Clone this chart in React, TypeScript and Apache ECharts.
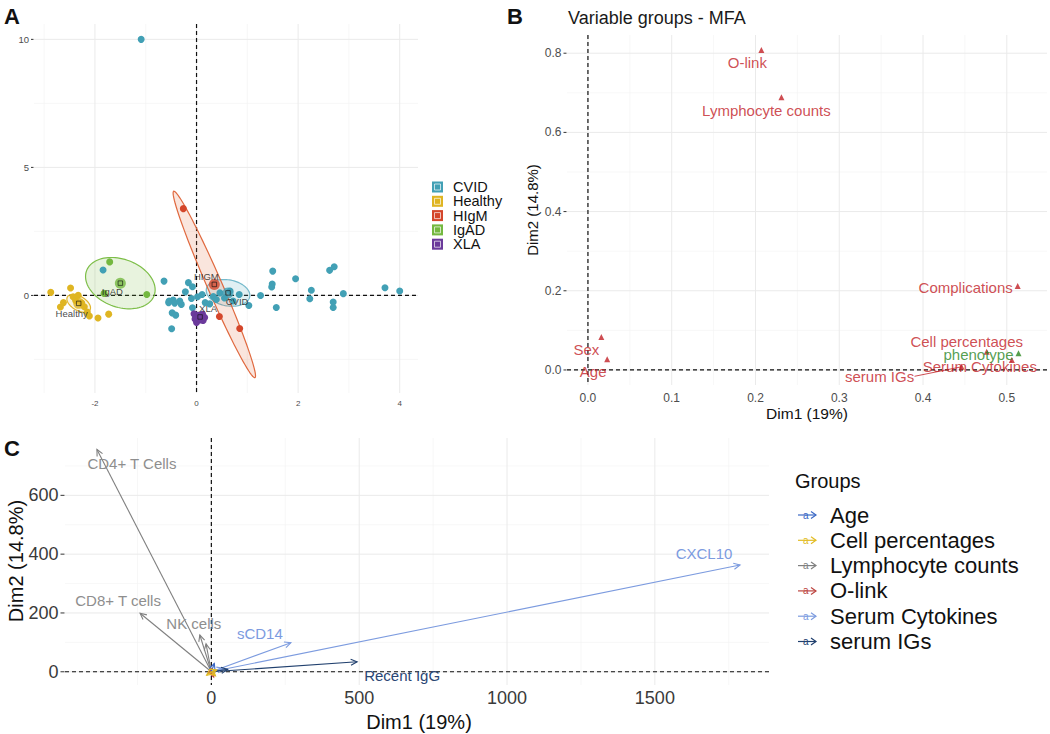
import React, { useEffect, useRef } from "react";
import * as echarts from "echarts";

const FONT = "'Liberation Sans', Arial, Helvetica, sans-serif";

// ---------------- Panel A : individuals ----------------
const groupsA = ["CVID", "Healthy", "HIgM", "IgAD", "XLA"];
const ptsCVID = [
  [-1.09, 10.0], [-1.84, 0.99], [-0.64, 0.56], [-0.16, 0.5], [-0.08, 0.34], [-0.22, 0.14],
  [-0.54, -0.22], [-0.46, -0.18], [-0.43, -0.3], [-0.3, -0.35], [-0.48, -0.68], [-0.41, -0.77],
  [-0.49, -1.3], [-0.1, -0.12], [-0.08, -0.48], [0.11, 0.04], [0.17, -0.28], [0.33, -0.04],
  [0.46, 0.1], [0.66, 0.17], [0.72, -0.22], [0.84, 0.04], [1.03, -0.39], [1.26, 0.0],
  [1.5, 0.95], [1.49, 0.45], [1.48, 0.33], [1.57, -0.47], [1.95, 0.65], [2.26, 0.2],
  [2.23, -0.13], [2.62, 0.98], [2.71, 1.12], [2.69, -0.26], [2.69, -0.47], [2.89, 0.07],
  [3.71, 0.3], [4.0, 0.17], [-0.55, -0.28], [0.26, -0.33], [0.39, -0.16], [-0.33, -0.22],
  [0.02, -0.05], [0.55, -0.1],
];
const ptsHealthy = [
  [-2.87, 0.12], [-2.48, 0.29], [-2.33, 0.01], [-2.43, -0.05], [-2.62, -0.28], [-2.26, -0.3],
  [-2.21, -0.44], [-2.15, -0.65], [-2.11, -0.8], [-1.94, -0.88], [-1.73, -0.73], [-2.68, -0.45],
  [-2.38, -0.2],
];
const ptsHIgM = [[-0.26, 3.39], [0.45, -0.82], [0.85, -1.29]];
const ptsIgAD = [[-1.71, 1.31], [-0.98, 0.04], [-1.82, 0.08]];
const ptsXLA = [
  [-0.05, -0.72], [0.03, -0.78], [0.12, -0.74], [0.16, -0.86], [0.08, -0.96], [-0.03, -0.92],
  [0.13, -0.98], [0.0, -1.06], [0.06, -0.85],
];
const pointsA = [ptsCVID, ptsHealthy, ptsHIgM, ptsIgAD, ptsXLA];
const centroidsA = [[0.62, 0.1], [-2.32, -0.31], [0.35, 0.43], [-1.5, 0.48], [0.07, -0.84]];
// confidence ellipses: semi-axis vectors (data units)
const ellipseMajorA = [[0.427, -0.148], [0.222, -0.254], [-0.8, 3.64], [0.666, -0.48], [0.12, -0.02]];
const ellipseMinorA = [[0.044, 0.5], [0.069, 0.237], [0.135, 0.117], [0.161, 0.88], [0.02, 0.16]];
const xTicksA = [-2, 0, 2, 4];
const xMinorA = [-3, -1, 1, 3];
const yTicksA = [0, 5, 10];
const yMinorA = [-2.5, 2.5, 7.5];

// ---------------- Panel B : variable groups ----------------
const varGroupsB = ["O-link", "Lymphocyte counts", "Complications", "Sex", "Age", "phenotype",
  "Cell percentages", "Serum Cytokines", "serum IGs"];
const dim1B = [0.207, 0.231, 0.513, 0.016, 0.023, 0.514, 0.476, 0.506, 0.446];
const dim2B = [0.808, 0.689, 0.212, 0.083, 0.027, 0.042, 0.046, 0.025, 0.008];
const typeB = [0, 0, 0, 0, 0, 1, 0, 0, 0]; // 0 = active, 1 = supplementary
const xTicksB = [0, 0.1, 0.2, 0.3, 0.4, 0.5];
const xMinorB = [0.05, 0.15, 0.25, 0.35, 0.45];
const yTicksB = [0, 0.2, 0.4, 0.6, 0.8];
const yMinorB = [0.1, 0.3, 0.5, 0.7];

// ---------------- Panel C : quantitative variables ----------------
const groupsC = ["Age", "Cell percentages", "Lymphocyte counts", "O-link", "Serum Cytokines", "serum IGs"];
const varNamesC = ["CXCL10", "CD4+ T Cells", "CD8+ T cells", "NK cells", "", "sCD14", "Recent IgG",
  "", "", "", "", "", "", "", ""];
const varGroupC = [4, 2, 2, 2, 2, 4, 5, 4, 5, 0, 3, 3, 1, 1, 1];
const dim1C = [1788, -387, -241, -39, -18, 269, 493, 40, 55, 10, 8, -12, -16, 14, 18];
const dim2C = [363, 756, 199, 125, 95, 99, 34, 12, 8, 28, -18, -6, -12, -14, 6];
const xTicksC = [0, 500, 1000, 1500];
const xMinorC = [-250, 250, 750, 1250, 1750];
const yTicksC = [0, 200, 400, 600];
const yMinorC = [100, 300, 500, 700];

// ---------------- styles ----------------
const colorsA = ["#42A0B5", "#DFB522", "#D4462B", "#74B840", "#6B3A9B"];
const ellipseStroke = ["#74B9CB", "#E2B62E", "#E0693F", "#7DBE48", "#6B3A9B"];
const ellipseFill = ["rgba(66,160,181,0.16)", "rgba(223,181,34,0.14)", "rgba(230,110,66,0.18)",
  "rgba(125,190,72,0.18)", "rgba(107,58,155,0.6)"];
const labelOffsetA = [[9, 9], [-7, 10], [-8, -8], [-8, 8], [8, -8]];
const colorsB = ["#C22127", "#2A861F"];
const labelOffsetB = [[-14, 12], [-15, 13], [-52, 1], [-15, 12], [-14, 12], [-40, 1], [-20, -10], [-32, 6], [-82, 10]];
const colorsC = ["#3B68C5", "#E2BC24", "#808080", "#BC4540", "#7C9BDF", "#21406E"];
const labelColorsC = ["#3B68C5", "#E2BC24", "#8E8E8E", "#BC4540", "#7C9BDF", "#2A4674"];
const labelOffsetC: Record<string, number[]> = {
  "CD4+ T Cells": [35, 14], "CD8+ T cells": [-22, -13], "NK cells": [-6, -12],
  "sCD14": [-31, -9], "CXCL10": [-36, -12], "Recent IgG": [45, 14],
};

type GStyle = { xFont: number; yFont: number; color: string; xGap: number; yGap: number; tick: number };

function gridSeries(gi: number, xMaj: number[], xMin: number[], yMaj: number[], yMin: number[],
  fmt: (v: number) => string, st: GStyle) {
  const data: number[][] = [];
  xMin.forEach((v) => data.push([v, 0, 0]));
  yMin.forEach((v) => data.push([0, v, 1]));
  xMaj.forEach((v) => data.push([v, 0, 2]));
  yMaj.forEach((v) => data.push([0, v, 3]));
  data.push([0, 0, 4]);
  data.push([0, 0, 5]);
  return {
    type: "custom", xAxisIndex: gi, yAxisIndex: gi, silent: true, z: 0, clip: false,
    data,
    renderItem: (params: any, api: any) => {
      const cs = params.coordSys;
      const kind = api.value(2);
      const v0 = api.value(0), v1 = api.value(1);
      const p = api.coord([v0, v1]);
      const x0 = cs.x, x1 = cs.x + cs.width, y0 = cs.y, y1 = cs.y + cs.height;
      if (kind === 0) return { type: "line", shape: { x1: p[0], y1: y0, x2: p[0], y2: y1 }, style: { stroke: "#F2F2F2", lineWidth: 0.6 } };
      if (kind === 1) return { type: "line", shape: { x1: x0, y1: p[1], x2: x1, y2: p[1] }, style: { stroke: "#F2F2F2", lineWidth: 0.6 } };
      if (kind === 2) return {
        type: "group", children: [
          { type: "line", shape: { x1: p[0], y1: y0, x2: p[0], y2: y1 }, style: { stroke: "#EAEAEA", lineWidth: 1 } },
          { type: "text", style: { text: fmt(v0), x: p[0], y: y1 + st.xGap, fill: st.color, fontSize: st.xFont, fontFamily: FONT, align: "center", verticalAlign: "middle" } },
        ],
      };
      if (kind === 3) return {
        type: "group", children: [
          { type: "line", shape: { x1: x0, y1: p[1], x2: x1, y2: p[1] }, style: { stroke: "#EAEAEA", lineWidth: 1 } },
          { type: "line", shape: { x1: x0 - st.tick - 0.5, y1: p[1], x2: x0 - 0.5, y2: p[1] }, style: { stroke: "#333", lineWidth: 1 } },
          { type: "text", style: { text: fmt(v1), x: x0 - st.yGap, y: p[1], fill: st.color, fontSize: st.yFont, fontFamily: FONT, align: "right", verticalAlign: "middle" } },
        ],
      };
      if (kind === 4) return { type: "line", shape: { x1: p[0], y1: y0, x2: p[0], y2: y1 }, style: { stroke: "#111", lineWidth: 1.2, lineDash: [4, 3] } };
      return { type: "line", shape: { x1: x0, y1: p[1], x2: x1, y2: p[1] }, style: { stroke: "#111", lineWidth: 1.2, lineDash: [4, 3] } };
    },
  };
}

function buildOption() {
  const series: any[] = [];
  // grids / axes labels
  series.push(gridSeries(0, xTicksA, xMinorA, yTicksA, yMinorA, (v) => String(v),
    { xFont: 8, yFont: 9.5, color: "#4D4D4D", xGap: 10, yGap: 5, tick: 2.5 }));
  series.push(gridSeries(1, xTicksB, xMinorB, yTicksB, yMinorB, (v) => v.toFixed(1),
    { xFont: 12, yFont: 12, color: "#4D4D4D", xGap: 13, yGap: 5.5, tick: 3 }));
  series.push(gridSeries(2, xTicksC, xMinorC, yTicksC, yMinorC, (v) => String(v),
    { xFont: 18, yFont: 18, color: "#3A3A3A", xGap: 13, yGap: 6.5, tick: 4 }));

  // Panel A ellipses
  series.push({
    type: "custom", xAxisIndex: 0, yAxisIndex: 0, silent: true, z: 1, clip: false,
    data: centroidsA,
    renderItem: (params: any, api: any) => {
      const i = params.dataIndex;
      const cx = api.value(0), cy = api.value(1);
      const a = ellipseMajorA[i], b = ellipseMinorA[i];
      const pts: number[][] = [];
      for (let k = 0; k < 90; k++) {
        const t = (k / 90) * Math.PI * 2;
        pts.push(api.coord([cx + a[0] * Math.cos(t) + b[0] * Math.sin(t), cy + a[1] * Math.cos(t) + b[1] * Math.sin(t)]));
      }
      return { type: "polygon", shape: { points: pts }, style: { fill: ellipseFill[i], stroke: ellipseStroke[i], lineWidth: 1.2 } };
    },
  });
  // Panel A points
  groupsA.forEach((g, i) => {
    series.push({
      type: "scatter", name: g, xAxisIndex: 0, yAxisIndex: 0, z: 3, symbol: "circle", symbolSize: 7,
      itemStyle: { color: colorsA[i], opacity: 1 }, data: pointsA[i],
    });
  });
  // centroids
  series.push({
    type: "scatter", xAxisIndex: 0, yAxisIndex: 0, z: 4, symbolSize: 11,
    data: centroidsA.map((c, i) => ({ name: groupsA[i], value: c, itemStyle: { color: colorsA[i] }, label: { offset: labelOffsetA[i] } })),
    label: { show: true, position: "inside", formatter: (p: any) => (p.name === "HIgM" ? "HIGM" : p.name), color: "#111", fontSize: 9.5, fontFamily: FONT, textBorderWidth: 0 },
  });
  series.push({
    type: "scatter", xAxisIndex: 0, yAxisIndex: 0, z: 5, symbol: "rect", symbolSize: 4.5, silent: true,
    data: centroidsA, itemStyle: { color: "rgba(0,0,0,0)", borderColor: "#111", borderWidth: 0.8 },
  });

  // Panel B
  series.push({
    type: "custom", xAxisIndex: 1, yAxisIndex: 1, silent: true, z: 2,
    data: [[dim1B[8], dim2B[8]]],
    renderItem: (params: any, api: any) => {
      const p = api.coord([api.value(0), api.value(1)]);
      return { type: "line", shape: { x1: p[0] - 47, y1: p[1] + 9.5, x2: p[0], y2: p[1] }, style: { stroke: colorsB[0], lineWidth: 0.8 } };
    },
  });
  series.push({
    type: "scatter", xAxisIndex: 1, yAxisIndex: 1, z: 3, symbol: "triangle", symbolSize: 6,
    data: varGroupsB.map((n, i) => ({
      name: n, value: [dim1B[i], dim2B[i]], itemStyle: { color: colorsB[typeB[i]] },
      label: { color: colorsB[typeB[i]], offset: labelOffsetB[i] },
    })),
    label: { show: true, position: "inside", formatter: "{b}", fontSize: 15, fontFamily: FONT, textBorderWidth: 0 },
  });

  // Panel C arrows
  series.push({
    type: "custom", xAxisIndex: 2, yAxisIndex: 2, silent: true, z: 3, clip: false,
    data: dim1C.map((x, i) => [x, dim2C[i]]),
    renderItem: (params: any, api: any) => {
      const i = params.dataIndex;
      const o = api.coord([0, 0]);
      const t = api.coord([api.value(0), api.value(1)]);
      const col = colorsC[varGroupC[i]];
      const ang = Math.atan2(t[1] - o[1], t[0] - o[0]);
      const L = 7, sp = 0.45;
      const h1 = [t[0] - L * Math.cos(ang - sp), t[1] - L * Math.sin(ang - sp)];
      const h2 = [t[0] - L * Math.cos(ang + sp), t[1] - L * Math.sin(ang + sp)];
      const children: any[] = [
        { type: "line", shape: { x1: o[0], y1: o[1], x2: t[0], y2: t[1] }, style: { stroke: col, lineWidth: 1.1 } },
        { type: "polyline", shape: { points: [h1, t, h2] }, style: { stroke: col, lineWidth: 1.1, fill: "none" } },
      ];
      const name = varNamesC[i];
      if (name) {
        const off = labelOffsetC[name] || [0, 0];
        children.push({ type: "text", style: { text: name, x: t[0] + off[0], y: t[1] + off[1], fill: labelColorsC[varGroupC[i]], fontSize: 15, fontFamily: FONT, align: "center", verticalAlign: "middle" } });
      }
      return { type: "group", children };
    },
  });

  // graphics: letters, titles, legends
  const graphic: any[] = [];
  const txt = (text: string, x: number, y: number, size: number, extra: any = {}, styleExtra: any = {}) => ({
    type: "text", x, y, ...extra,
    style: { text, fill: "#111", fontSize: size, fontFamily: FONT, align: "left", verticalAlign: "middle", ...styleExtra },
  });
  graphic.push(txt("A", 4, 16, 22, {}, { fontWeight: "bold" }));
  graphic.push(txt("B", 507, 16, 22, {}, { fontWeight: "bold" }));
  graphic.push(txt("C", 4, 448, 22, {}, { fontWeight: "bold" }));
  graphic.push(txt("Variable groups - MFA", 568, 18, 18, {}, { fill: "#1A1A1A" }));
  graphic.push(txt("Dim2 (14.8%)", 532, 210, 15, { rotation: Math.PI / 2 }, { align: "center" }));
  graphic.push(txt("Dim1 (19%)", 807, 413, 15.5, {}, { align: "center" }));
  graphic.push(txt("Dim1 (19%)", 419, 722, 20, {}, { align: "center" }));
  graphic.push(txt("Dim2 (14.8%)", 16, 561, 20, { rotation: Math.PI / 2 }, { align: "center" }));

  // legend A
  groupsA.forEach((g, i) => {
    const cy = 187 + i * 14.3;
    graphic.push({ type: "rect", shape: { x: 432, y: cy - 5.5, width: 11, height: 11 }, style: { fill: colorsA[i] } });
    graphic.push({ type: "rect", shape: { x: 434.5, y: cy - 3, width: 6, height: 6 }, style: { fill: "none", stroke: "rgba(255,255,255,0.85)", lineWidth: 0.8 } });
    graphic.push({ type: "circle", shape: { cx: 437.5, cy, r: 1.8 }, style: { fill: colorsA[i] } });
    graphic.push(txt(g, 453, cy, 14.5));
  });

  // legend C
  graphic.push(txt("Groups", 795, 481, 20));
  groupsC.forEach((g, i) => {
    const cy = 515 + i * 25.3;
    const col = colorsC[i];
    graphic.push({ type: "line", shape: { x1: 798, y1: cy, x2: 816, y2: cy }, style: { stroke: col, lineWidth: 1.2 } });
    graphic.push({ type: "polyline", shape: { points: [[811, cy - 3.5], [816, cy], [811, cy + 3.5]] }, style: { stroke: col, lineWidth: 1.2, fill: "none" } });
    graphic.push(txt("a", 803, cy, 10, {}, { fill: col }));
    graphic.push(txt(g, 830, cy, 22));
  });

  return {
    animation: false,
    backgroundColor: "#ffffff",
    textStyle: { fontFamily: FONT },
    grid: [
      { left: 34, top: 24, width: 384, height: 369 },
      { left: 567, top: 35, width: 480, height: 350 },
      { left: 65, top: 438, width: 704, height: 247 },
    ],
    xAxis: [
      { gridIndex: 0, type: "value", min: -3.2, max: 4.36, show: false },
      { gridIndex: 1, type: "value", min: -0.025, max: 0.548, show: false },
      { gridIndex: 2, type: "value", min: -495, max: 1886, show: false },
    ],
    yAxis: [
      { gridIndex: 0, type: "value", min: -3.81, max: 10.6, show: false },
      { gridIndex: 1, type: "value", min: -0.038, max: 0.846, show: false },
      { gridIndex: 2, type: "value", min: -45, max: 795, show: false },
    ],
    series,
    graphic,
  };
}

export default function App() {
  const ref = useRef<HTMLDivElement>(null);
  useEffect(() => {
    if (!ref.current) return;
    const chart = echarts.init(ref.current, undefined, { renderer: "svg" });
    chart.setOption(buildOption() as any);
    return () => chart.dispose();
  }, []);
  return <div ref={ref} style={{ position: "fixed", left: 0, top: 0, width: 1050, height: 734, background: "#fff" }} />;
}
